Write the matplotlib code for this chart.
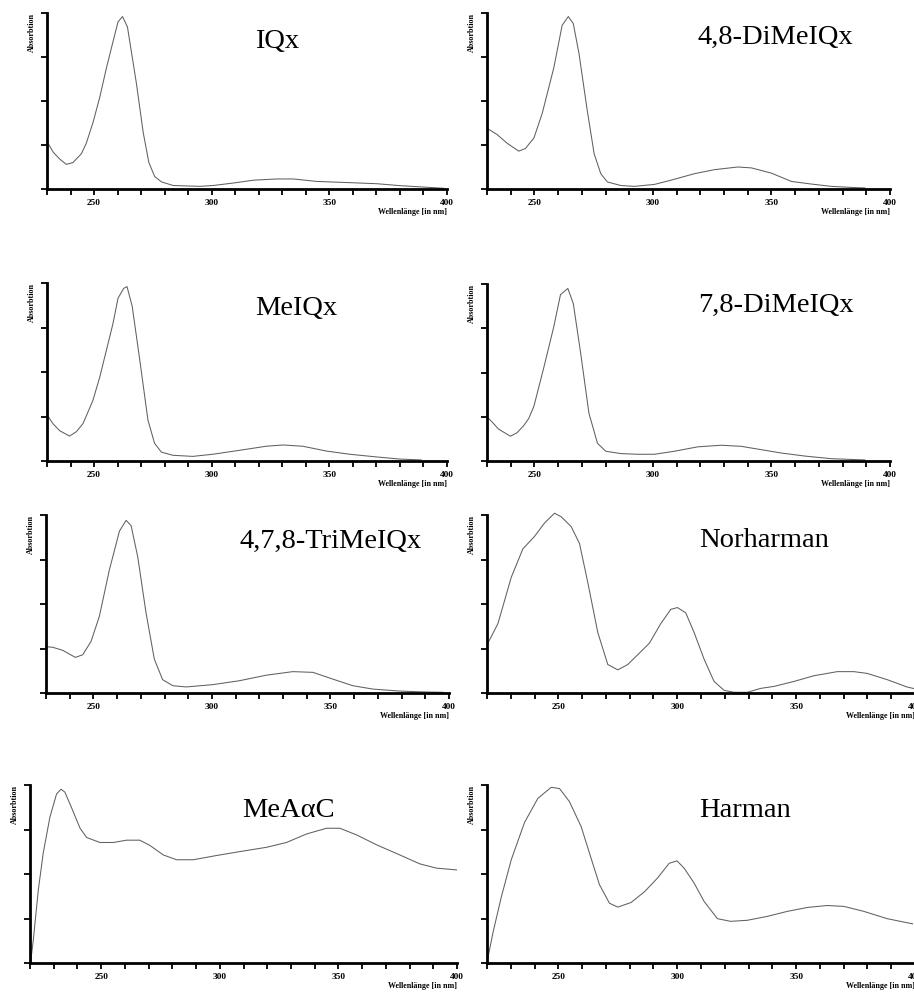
import matplotlib
matplotlib.use("Agg")
import matplotlib.pyplot as plt
from matplotlib.ticker import MultipleLocator, FixedLocator

W, H = 914, 994
DPI = 100

# ---------------- data ----------------
names = ["IQx", "4,8-DiMeIQx", "MeIQx", "7,8-DiMeIQx",
         "4,7,8-TriMeIQx", "Norharman", "MeA\u03b1C", "Harman"]

iqx_x = [230, 232.6, 235.4, 238.2, 241, 244.6, 246.7, 249.6, 252.4, 255.3, 258.1, 260.2, 262.1,
         264.2, 268, 270.9, 273.3, 275.8, 278.7, 283.6, 295, 300.7, 309.2, 317.7, 327.6, 334.7,
         344.7, 358.8, 370.2, 380.1, 390, 398.6]
iqx_y = [0.27, 0.21, 0.17, 0.14, 0.15, 0.20, 0.26, 0.38, 0.52, 0.69, 0.84, 0.95, 0.98,
         0.92, 0.60, 0.32, 0.15, 0.07, 0.04, 0.02, 0.015, 0.02, 0.034, 0.05, 0.057, 0.057,
         0.043, 0.036, 0.03, 0.019, 0.011, 0.004]

dm48_x = [230, 234.2, 238.5, 243.4, 246.2, 249.8, 253.3, 258.2, 261.7, 264.3, 266.4, 268.8, 272.3,
          275.2, 278, 280.8, 286.4, 292.1, 300.6, 307.6, 317.5, 326, 335.8, 341.5, 350, 358.4,
          366.9, 375.3, 385.2, 389.4]
dm48_y = [0.345, 0.31, 0.26, 0.215, 0.23, 0.29, 0.43, 0.69, 0.93, 0.98, 0.94, 0.77, 0.445,
          0.20, 0.087, 0.04, 0.02, 0.015, 0.026, 0.05, 0.087, 0.11, 0.125, 0.12, 0.09, 0.043,
          0.028, 0.015, 0.008, 0.006]

meiqx_x = [230, 232.5, 235.4, 239.6, 242.5, 245.3, 249.5, 252.4, 255.2, 258, 260.2, 262.6, 264,
           266.2, 269.4, 272.9, 275.7, 278.6, 283.5, 292, 300.5, 311.8, 323.2, 330.3, 338.7,
           348.7, 358.6, 369.9, 379.8, 389]
meiqx_y = [0.26, 0.21, 0.17, 0.14, 0.165, 0.21, 0.34, 0.47, 0.62, 0.77, 0.915, 0.97, 0.98,
           0.87, 0.57, 0.23, 0.10, 0.05, 0.032, 0.026, 0.038, 0.06, 0.083, 0.09, 0.083,
           0.056, 0.038, 0.023, 0.011, 0.006]

dm78_x = [230, 232.5, 234.9, 239.9, 242.7, 245.5, 247.6, 249.8, 254, 258.2, 261, 264.1, 266.4,
          269.5, 273, 276.6, 280.1, 286.4, 293.5, 300.6, 309, 318.9, 328.8, 337.2, 345.7,
          354.2, 364, 375.3, 389.4]
dm78_y = [0.25, 0.215, 0.18, 0.14, 0.16, 0.20, 0.24, 0.31, 0.53, 0.76, 0.94, 0.975, 0.89,
          0.61, 0.27, 0.10, 0.055, 0.042, 0.038, 0.038, 0.055, 0.08, 0.089, 0.083, 0.064,
          0.045, 0.028, 0.013, 0.006]

tm_x = [230, 232.8, 237, 242.4, 245.5, 249, 252.5, 256.7, 261, 263.8, 265.9, 268.7, 272.2,
        275.7, 279.2, 283.5, 289.1, 300.4, 311.6, 322.9, 334.1, 342.6, 351, 359.4, 367.9,
        379.1, 389, 397.4]
tm_y = [0.26, 0.257, 0.24, 0.20, 0.215, 0.29, 0.43, 0.69, 0.91, 0.97, 0.94, 0.765, 0.45,
        0.19, 0.075, 0.041, 0.034, 0.047, 0.069, 0.10, 0.12, 0.116, 0.078, 0.041, 0.022,
        0.011, 0.006, 0.004]

nor_x = [220, 224.6, 230.2, 235.1, 240, 244.2, 248.4, 251.2, 255.4, 258.9, 262.4, 266.6, 270.8,
         275, 279.2, 283.4, 288.3, 293.1, 297.3, 300.1, 303.6, 307.1, 311.3, 315.5, 319.7,
         323.9, 329.5, 335.1, 340.7, 349.1, 357.5, 367.3, 374.3, 379.9, 388.3, 396.6, 399.5]
nor_y = [0.27, 0.39, 0.65, 0.81, 0.88, 0.955, 1.01, 0.99, 0.935, 0.84, 0.62, 0.34, 0.16,
         0.13, 0.16, 0.215, 0.28, 0.39, 0.47, 0.48, 0.45, 0.34, 0.19, 0.065, 0.015,
         0.004, 0.004, 0.026, 0.037, 0.065, 0.097, 0.12, 0.12, 0.11, 0.075, 0.034, 0.025]

meac_x = [220.3, 221.4, 223.5, 225.6, 228.4, 231.2, 233.1, 234.7, 237.6, 241.1, 243.9, 249.5,
          255.1, 260.7, 266.3, 270.6, 276.2, 281.8, 288.8, 298.7, 308.5, 319.7, 328.1, 336.6,
          345, 350.6, 357.6, 366.1, 375.9, 384.3, 391.3, 399.8]
meac_y = [0.01, 0.13, 0.41, 0.62, 0.82, 0.95, 0.976, 0.96, 0.87, 0.757, 0.705, 0.677,
          0.677, 0.69, 0.69, 0.66, 0.607, 0.58, 0.58, 0.604, 0.626, 0.65, 0.677, 0.725,
          0.757, 0.757, 0.72, 0.664, 0.607, 0.557, 0.533, 0.523]

har_x = [220, 222.5, 226, 230.2, 235.8, 241.4, 247, 250.5, 254.7, 259.6, 263.1, 267.3, 271.5,
         275, 280.6, 286.2, 291.7, 296.6, 299.9, 302.9, 307.1, 311.3, 316.9, 322.5, 329.5,
         337.9, 346.3, 354.7, 363.1, 370.1, 378.5, 388.3, 399]
har_y = [0.004, 0.17, 0.37, 0.58, 0.79, 0.925, 0.987, 0.98, 0.906, 0.766, 0.617, 0.44, 0.336,
         0.314, 0.34, 0.40, 0.477, 0.56, 0.574, 0.533, 0.449, 0.346, 0.249, 0.234, 0.24,
         0.262, 0.29, 0.312, 0.323, 0.318, 0.29, 0.249, 0.22]

series_x = [iqx_x, dm48_x, meiqx_x, dm78_x, tm_x, nor_x, meac_x, har_x]
series_y = [iqx_y, dm48_y, meiqx_y, dm78_y, tm_y, nor_y, meac_y, har_y]
x_starts = [230, 230, 230, 230, 230, 220, 220, 220]
x_end = 400
x_major = [250, 300, 350, 400]
ylabel = "Absorbtion"
xlabel = "Wellenl\u00e4nge [in nm]"

# ---------------- layout (pixel boxes: x0, y0_top, x1, y1_bottom) ----------------
boxes = [(47, 13, 447, 189), (487, 13, 890, 189),
         (47, 283, 447, 461), (487, 284, 890, 461),
         (46, 515, 449, 693), (487, 515, 915, 693),
         (30, 785, 457, 963), (487, 785, 915, 963)]
title_pos = [(255, 48), (697, 44), (255, 315), (698, 312),
             (240, 548), (699, 547), (242, 817), (699, 817)]

serif = ["Liberation Serif", "DejaVu Serif"]
plt.rcParams["font.family"] = serif

fig = plt.figure(figsize=(W / DPI, H / DPI), dpi=DPI)
fig.patch.set_facecolor("white")

for i in range(8):
    x0, y0, x1, y1 = boxes[i]
    ax = fig.add_axes([x0 / W, 1 - y1 / H, (x1 - x0) / W, (y1 - y0) / H])
    ax.plot(series_x[i], series_y[i], color="#606060", lw=0.75, clip_on=False,
            solid_joinstyle="round")
    ax.set_xlim(x_starts[i], x_end)
    ax.set_ylim(0, 1)
    for s in ("top", "right"):
        ax.spines[s].set_visible(False)
    for s in ("left", "bottom"):
        ax.spines[s].set_linewidth(2.0)
    ax.xaxis.set_major_locator(FixedLocator(x_major))
    ax.xaxis.set_minor_locator(MultipleLocator(10))
    ax.yaxis.set_major_locator(FixedLocator([0, 0.25, 0.5, 0.75, 1.0]))
    ax.tick_params(axis="x", which="both", direction="out", length=4.5, width=1.3,
                   pad=2.5, labelsize=6.7)
    ax.tick_params(axis="y", which="both", direction="out", length=4.5, width=1.3,
                   labelleft=False)
    for lab in ax.get_xticklabels():
        lab.set_fontweight("bold")
    wpx = x1 - x0
    hpx = y1 - y0
    ax.text(-15.5 / wpx, 1.0, ylabel, rotation=90, ha="center", va="top",
            fontsize=5.8, fontweight="bold", transform=ax.transAxes)
    ax.text(1.0, -23.0 / hpx, xlabel, ha="right", va="center",
            fontsize=5.8, fontweight="bold", transform=ax.transAxes, clip_on=False)
    tx, ty = title_pos[i]
    fig.text(tx / W, 1 - ty / H, names[i], ha="left", va="baseline", fontsize=20.5)

fig.savefig("out.png", dpi=DPI, facecolor="white")
